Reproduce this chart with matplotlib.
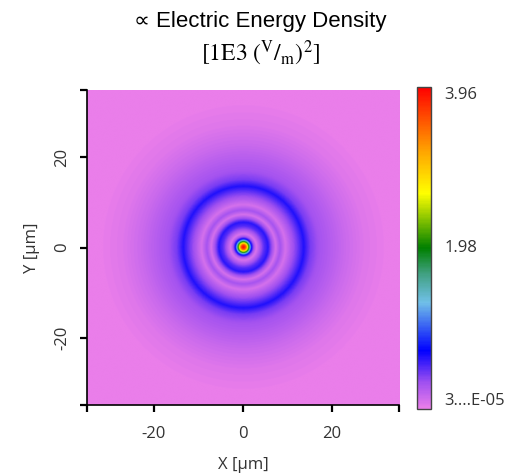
import numpy as np
import matplotlib
matplotlib.use("Agg")
import matplotlib.pyplot as plt
from matplotlib.colors import LinearSegmentedColormap

# radial profile of the energy density (r in um)
radius_um = [0.0, 0.5, 1.0, 1.4, 1.8, 2.3, 2.9, 3.6, 4.6, 5.5, 6.3, 7.2, 8.2, 9.4,
             10.6, 11.8, 13.5, 15.0, 17.0, 20.0, 23.0, 27.0, 32.0, 60.0]
density = [3.96, 3.6, 2.5, 1.5, 0.7, 0.3, 0.08, 0.25, 0.5, 0.62, 0.35, 0.1, 0.3, 0.1,
           0.25, 0.4, 0.64, 0.42, 0.3, 0.22, 0.14, 0.06, 0.01, 0.0]

extent_um = [-35, 35, -35, 35]
x_ticks = [-20, 0, 20]
y_ticks = [-20, 0, 20]
cbar_ticks = [3e-5, 1.98, 3.96]
cbar_labels = ["3....E-05", "1.98", "3.96"]

cmap = LinearSegmentedColormap.from_list("vlrainbow", [
    (0.00, "#ea7eea"),
    (0.08, "#a050f0"),
    (0.18, "#0000ff"),
    (0.33, "#70c0e8"),
    (0.42, "#40a080"),
    (0.50, "#008000"),
    (0.67, "#ffff00"),
    (0.80, "#ffa500"),
    (1.00, "#ff0000"),
])

xs = np.linspace(extent_um[0], extent_um[1], 500)
X, Y = np.meshgrid(xs, xs)
field = np.interp(np.hypot(X, Y), radius_um, density)

fig = plt.figure(figsize=(5.11, 4.76), dpi=100)
ax = fig.add_axes([0.170, 0.149, 0.611, 0.662])
cax = fig.add_axes([0.816, 0.141, 0.027, 0.676])

im = ax.imshow(field, extent=extent_um, origin="lower", cmap=cmap,
               vmin=3e-5, vmax=3.96, interpolation="bilinear", aspect="auto")

tick_font = dict(family="Open Sans", size=12, color="#333333")
ax.set_xticks([extent_um[0]] + x_ticks + [extent_um[1]])
ax.set_xticklabels([""] + [str(t) for t in x_ticks] + [""], **tick_font)
ax.set_yticks([extent_um[2]] + y_ticks + [extent_um[3]])
ax.set_yticklabels([""] + [str(t) for t in y_ticks] + [""], rotation=90, va="center", **tick_font)
ax.tick_params(length=5, width=1.6, color="black")
ax.tick_params(axis="x", pad=10)
ax.tick_params(axis="y", pad=7)
for s in ["top", "right"]:
    ax.spines[s].set_visible(False)
for s in ["left", "bottom"]:
    ax.spines[s].set_linewidth(1.2)
ax.set_xlabel("X [µm]", family="Open Sans", size=12, color="#333333", labelpad=11)
ax.set_ylabel("Y [µm]", family="Open Sans", size=12, color="#333333", labelpad=10)

cb = fig.colorbar(im, cax=cax)
cb.set_ticks(cbar_ticks)
cb.set_ticklabels([])
cb.ax.tick_params(length=0)
cb.outline.set_edgecolor("#444444")
cb.outline.set_linewidth(1.0)
for val, lab, va in zip(cbar_ticks, cbar_labels, ["bottom", "center", "top"]):
    cax.text(2.0, val, lab, transform=cax.get_yaxis_transform(), va=va, ha="left",
             family="Open Sans", size=12, color="#333333")

fig.text(0.509, 1 - 22 / 476, "∝ Electric Energy Density", ha="center", va="center",
         family=["Liberation Sans", "DejaVu Sans"], size=16, color="black")
plt.rcParams["mathtext.fontset"] = "stix"
fig.text(0.509, 1 - 53 / 476, r"$[1\mathrm{E}3\ (^{\mathrm{V}}/_{\mathrm{m}})^{2}]$", ha="center",
         va="center", size=17, color="black")

fig.savefig("out.png", dpi=100)
